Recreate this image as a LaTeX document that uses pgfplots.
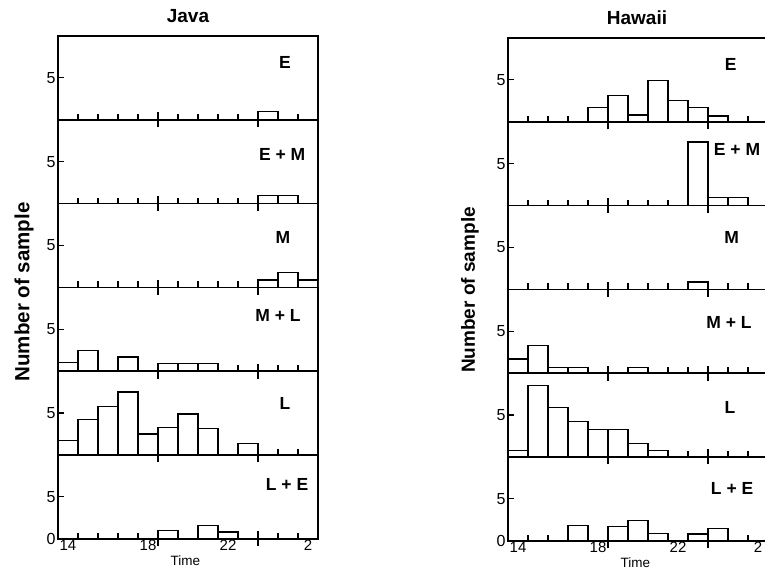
\documentclass[border=0pt]{standalone}
\usepackage{pgfplots}
\pgfplotsset{compat=1.18}
\usepackage{fontspec}
\setmainfont{Liberation Sans}
\pgfplotsset{
 panel/.style={scale only axis, width=260pt, height=83.8pt, anchor=south west,
   xmin=13.5, xmax=26.5, ymin=0, ymax=10,
   axis line style={line width=1.5pt},
   xtick={13.5,14.5,...,26.5}, xticklabels={}, ytick={5},
   xtick pos=left, ytick pos=left, tick align=inside, major tick length=6pt,
   tick style={line width=1.2pt, black},
   extra x ticks={18.5,23.5}, extra x tick labels={},
   extra x tick style={tick align=center, major tick length=15pt},
   yticklabel style={font=\fontsize{16}{16}\selectfont, xshift=1pt},
   /pgf/number format/assume math mode=true},
 bottompanel/.style={ytick={0,5}, x tick label as interval,
   xticklabels={14,,,,18,,,,22,,,,2},
   xticklabel style={font=\fontsize{15}{15}\selectfont, inner sep=1pt},
   xlabel={Time}, xlabel style={at={(rel axis cs:0.49,0)}, anchor=center, yshift=-22pt, font=\fontsize{13.5}{14}\selectfont, inner sep=0pt}},
 bars/.style={ybar, bar width=1, bar shift=0pt, draw=black, fill=white, line width=1.3pt},
}
\tikzset{plabel/.style={font=\bfseries\fontsize{17.5}{20}\selectfont, inner sep=0pt}}
\newcommand{\panel}[6]{%
 \begin{axis}[panel, at={(#1pt,#2pt)}, #3]
 \addplot[bars] coordinates {#6};
 \node[plabel] at (rel axis cs:#5) {#4};
 \end{axis}}
\begin{document}
\begin{tikzpicture}
% Java
\panel{58}{449.2}{}{E}{0.873,0.68}{(24,1)}
\panel{58}{365.4}{}{E + M}{0.862,0.59}{(24,1) (25,1)}
\panel{58}{281.6}{}{M}{0.865,0.60}{(24,0.9) (25,1.8) (26,0.9)}
\panel{58}{197.8}{}{M + L}{0.846,0.66}{(14,1) (15,2.5) (17,1.7) (19,0.9) (20,0.9) (21,0.9)}
\panel{58}{114}{}{L}{0.873,0.62}{(14,1.7) (15,4.2) (16,5.8) (17,7.5) (18,2.5) (19,3.3) (20,4.9) (21,3.2) (23,1.4)}
\panel{58}{30.2}{bottompanel}{L + E}{0.881,0.65}{(19,1) (21,1.6) (22,0.8)}
% Hawaii
\panel{508}{447.2}{}{E}{0.857,0.68}{(18,1.7) (19,3.1) (20,0.8) (21,4.9) (22,2.5) (23,1.7) (24,0.7)}
\panel{508}{363.4}{}{E + M}{0.881,0.675}{(23,7.6) (24,1) (25,1)}
\panel{508}{279.6}{}{M}{0.860,0.62}{(23,0.9)}
\panel{508}{195.8}{}{M + L}{0.85,0.60}{(14,1.7) (15,3.3) (16,0.7) (17,0.7) (20,0.7)}
\panel{508}{112}{}{L}{0.854,0.59}{(14,0.8) (15,8.5) (16,5.9) (17,4.2) (18,3.3) (19,3.3) (20,1.6) (21,0.8)}
\panel{508}{28.2}{bottompanel}{L + E}{0.862,0.63}{(17,1.8) (19,1.7) (20,2.4) (21,0.9) (23,0.8) (24,1.5)}
% titles and axis labels
\node[font=\bfseries\fontsize{19}{22}\selectfont] at (188pt,553pt) {Java};
\node[font=\bfseries\fontsize{19}{22}\selectfont] at (637pt,551pt) {Hawaii};
\node[rotate=90, font=\bfseries\fontsize{20.5}{24}\selectfont] at (24pt,277pt) {Number of sample};
\node[rotate=90, font=\bfseries\fontsize{19}{22}\selectfont] at (470pt,279pt) {Number of sample};
\pgfresetboundingbox
\path[use as bounding box] (0,0) rectangle (765pt,569pt);
\end{tikzpicture}
\end{document}
